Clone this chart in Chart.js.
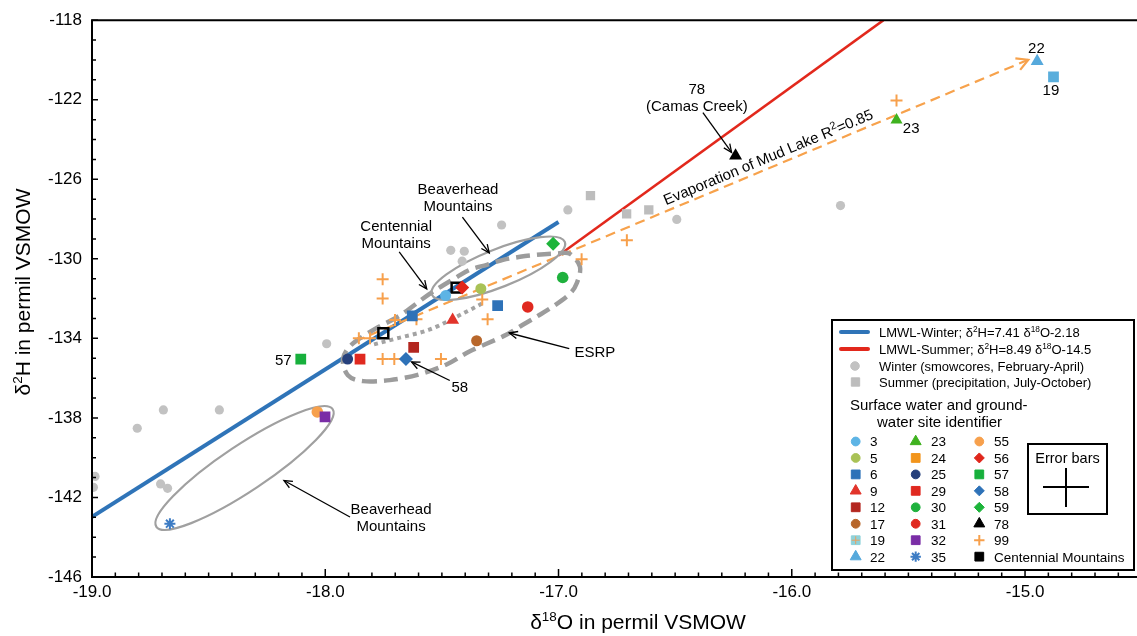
<!DOCTYPE html>
<html>
<head>
<meta charset="utf-8">
<script src="https://cdn.jsdelivr.net/npm/chart.js@4.4.1/dist/chart.umd.min.js"></script>
<style>
html, body { margin: 0; padding: 0; background: #fff; }
#wrap { width: 1137px; height: 636px; }
</style>
</head>
<body>
<div id="wrap"><canvas id="chart" width="1137" height="636"></canvas></div>
<script>
// values: x = d18O, y = d2H (permil VSMOW)
const xTickValues = [-19, -18, -17, -16, -15];
const yTickValues = [-146, -142, -138, -134, -130, -126, -122, -118];

const lmwlWinterX = [-19.0, -17.0];
const lmwlWinterY = [-142.97, -128.15];
const lmwlSummerX = [-17.0, -15.607];
const lmwlSummerY = [-129.83, -118.0];
const evapX = [-17.873, -14.986];
const evapY = [-134.15, -119.99];

const winterX = [-16.96, -17.244, -17.462, -17.404, -17.413, -17.994, -16.493, -15.791, -18.694, -18.454, -18.806, -18.987, -18.994, -18.706, -18.676];
const winterY = [-127.54, -128.3, -129.57, -129.62, -130.12, -134.27, -128.02, -127.32, -137.6, -137.6, -138.52, -140.94, -141.49, -141.32, -141.54];
const summerX = [-16.863, -16.708, -16.613];
const summerY = [-126.82, -127.74, -127.54];

const siteIds = ['3', '5', '6', '6', '9', '12', '17', '19', '22', '23', '25', '29', '30', '31', '32', '35', '55', '56', '57', '58', '59', '78'];
const siteX = [-17.484, -17.333, -17.261, -17.627, -17.454, -17.621, -17.351, -14.878, -14.948, -15.551, -17.904, -17.851, -16.982, -17.132, -18.001, -18.666, -18.034, -17.413, -18.105, -17.654, -17.023, -16.241];
const siteY = [-131.85, -131.5, -132.35, -132.87, -133.07, -134.45, -134.12, -120.85, -120.07, -123.02, -135.04, -135.04, -130.94, -132.42, -137.95, -143.32, -137.7, -131.44, -135.04, -135.04, -129.24, -124.82];

const site99X = [-17.754, -17.754, -16.901, -17.327, -17.304, -17.701, -17.609, -17.856, -17.808, -17.754, -17.704, -17.504, -16.707, -15.551];
const site99Y = [-131.03, -131.99, -130.02, -132.04, -133.04, -133.07, -133.04, -133.99, -133.99, -135.04, -135.04, -135.04, -129.07, -122.04];
const centennialX = [-17.751, -17.437];
const centennialY = [-133.74, -131.45];

// outlined groups
const esrpX = [-17.838, -17.723, -17.594, -17.478, -17.38, -17.238, -17.165, -17.093, -17.024, -16.951, -16.921, -16.908, -16.951, -17.007, -17.093, -17.165, -17.238, -17.307, -17.38, -17.44, -17.551, -17.68, -17.783, -17.886, -17.924, -17.903];
const esrpY = [-136.15, -136.1, -135.8, -135.3, -134.65, -133.9, -133.4, -132.9, -132.4, -131.75, -131.2, -130.4, -129.75, -129.73, -129.8, -129.9, -130.05, -130.3, -130.55, -130.95, -131.75, -132.85, -133.5, -134.3, -135.05, -135.85];
const dottedX = [-17.791, -17.693, -17.551, -17.41, -17.328];
const dottedY = [-134.3, -134.0, -133.55, -132.75, -132.25];
const beaverUpperX = [-17.543, -16.973];
const beaverUpperY = [-131.8, -129.15];
const beaverLowerX = [-18.724, -17.968];
const beaverLowerY = [-143.475, -137.565];

const FONT = '"Liberation Sans", Arial, Helvetica, sans-serif';
Chart.defaults.font.family = FONT;
Chart.defaults.color = '#000';

const siteStyle = {
  '3':  { shape: 'circle', color: '#5db4e5', r: 5.5 },
  '5':  { shape: 'circle', color: '#a9c256', r: 5.5 },
  '6':  { shape: 'rect', color: '#2e72b8', r: 7.6 },
  '9':  { shape: 'triangle', color: '#e2342b', r: 7.5 },
  '12': { shape: 'rect', color: '#b3261f', r: 7.6 },
  '17': { shape: 'circle', color: '#b8672b', r: 5.5 },
  '19': { shape: 'rect', color: '#5aaedc', r: 7.6 },
  '22': { shape: 'triangle', color: '#56a9dc', r: 7.5 },
  '23': { shape: 'triangle', color: '#3fb21f', r: 7 },
  '24': { shape: 'rect', color: '#f2951c', r: 7.6 },
  '25': { shape: 'circle', color: '#26407c', r: 5.5 },
  '29': { shape: 'rect', color: '#e0291f', r: 7.6 },
  '30': { shape: 'circle', color: '#1fb13d', r: 5.8 },
  '31': { shape: 'circle', color: '#e0291f', r: 5.8 },
  '32': { shape: 'rect', color: '#7a2da6', r: 7.6 },
  '35': { shape: 'star', color: '#3d7cc4', r: 5.5, line: 2 },
  '55': { shape: 'circle', color: '#f7a04c', r: 5.8 },
  '56': { shape: 'rectRot', color: '#e0261b', r: 7 },
  '57': { shape: 'rect', color: '#17b03c', r: 7.6 },
  '58': { shape: 'rectRot', color: '#2e72b8', r: 7 },
  '59': { shape: 'rectRot', color: '#1db43a', r: 7 },
  '78': { shape: 'triangle', color: '#000000', r: 7.5 },
  '99': { shape: 'cross', color: '#f7a04c', r: 6, line: 2 },
  'Centennial Mountains': { shape: 'rect', color: '#000000', r: 6.5 }
};
const legendColumns = [
  ['3', '5', '6', '9', '12', '17', '19', '22'],
  ['23', '24', '25', '29', '30', '31', '32', '35'],
  ['55', '56', '57', '58', '59', '78', '99', 'Centennial Mountains']
];

const pts = (xs, ys) => xs.map((x, i) => ({ x: x, y: ys[i] }));

function markerSet(id, data) {
  const s = siteStyle[id];
  const stroked = s.shape === 'cross' || s.shape === 'star';
  return {
    label: id, data: data, showLine: false,
    pointStyle: s.shape, pointRadius: s.r,
    pointBackgroundColor: s.color,
    pointBorderColor: s.color,
    pointBorderWidth: stroked ? s.line : 0
  };
}

// first dataset is drawn on top
const datasets = [];
const uniqueIds = [...new Set(siteIds)];
uniqueIds.forEach(id => {
  const d = [];
  siteIds.forEach((sid, i) => { if (sid === id) d.push({ x: siteX[i], y: siteY[i] }); });
  datasets.push(markerSet(id, d));
});
datasets.push({
  label: 'Centennial Mountains', data: pts(centennialX, centennialY), showLine: false,
  pointStyle: 'rect', pointRadius: 7, pointBackgroundColor: 'rgba(255,255,255,0)',
  pointBorderColor: '#000', pointBorderWidth: 2.5
});
datasets.push(markerSet('99', pts(site99X, site99Y)));
datasets.push({ label: 'Winter', data: pts(winterX, winterY), showLine: false,
  pointStyle: 'circle', pointRadius: 4.6, pointBackgroundColor: '#c2c2c2', pointBorderWidth: 0 });
datasets.push({ label: 'Summer', data: pts(summerX, summerY), showLine: false,
  pointStyle: 'rect', pointRadius: 6.6, pointBackgroundColor: '#bdbdbd', pointBorderWidth: 0 });
const evapIndex = datasets.length;
datasets.push({ label: 'Evaporation', data: pts(evapX, evapY), showLine: true,
  borderColor: '#f7a24c', borderWidth: 2.2, borderDash: [10, 6], pointRadius: 0 });
datasets.push({ label: 'LMWL-Summer', data: pts(lmwlSummerX, lmwlSummerY), showLine: true,
  borderColor: '#e2281c', borderWidth: 2.6, pointRadius: 0 });
datasets.push({ label: 'LMWL-Winter', data: pts(lmwlWinterX, lmwlWinterY), showLine: true,
  borderColor: '#2f74b8', borderWidth: 4, pointRadius: 0 });

// ---------- drawing helpers ----------
function richText(ctx, parts, x, y, size, align, supScale) {
  const ss = size * (supScale || 0.64);
  let w = 0;
  const segs = parts.map(p => {
    const sup = p.charAt(0) === '^';
    const t = sup ? p.slice(1) : p;
    ctx.font = (sup ? ss : size) + 'px ' + FONT;
    const sw = ctx.measureText(t).width;
    w += sw;
    return { t: t, sup: sup, sw: sw };
  });
  let cx = align === 'center' ? x - w / 2 : (align === 'right' ? x - w : x);
  const base = y + size * 0.36;
  ctx.textAlign = 'left';
  ctx.textBaseline = 'alphabetic';
  segs.forEach(s => {
    ctx.font = (s.sup ? ss : size) + 'px ' + FONT;
    ctx.fillText(s.t, cx, s.sup ? base - size * 0.38 : base);
    cx += s.sw;
  });
  return w;
}

function arrowLine(ctx, x1, y1, x2, y2, head, color, lw) {
  ctx.save();
  ctx.strokeStyle = color; ctx.lineWidth = lw; ctx.setLineDash([]);
  ctx.beginPath(); ctx.moveTo(x1, y1); ctx.lineTo(x2, y2); ctx.stroke();
  const a = Math.atan2(y2 - y1, x2 - x1);
  ctx.beginPath();
  ctx.moveTo(x2 - head * Math.cos(a - 0.42), y2 - head * Math.sin(a - 0.42));
  ctx.lineTo(x2, y2);
  ctx.lineTo(x2 - head * Math.cos(a + 0.42), y2 - head * Math.sin(a + 0.42));
  ctx.stroke();
  ctx.restore();
}

function splinePath(ctx, p, closed) {
  const n = p.length;
  const at = i => closed ? p[(i + n) % n] : p[Math.max(0, Math.min(n - 1, i))];
  ctx.moveTo(p[0][0], p[0][1]);
  const segs = closed ? n : n - 1;
  for (let i = 0; i < segs; i++) {
    const p0 = at(i - 1), p1 = at(i), p2 = at(i + 1), p3 = at(i + 2);
    ctx.bezierCurveTo(p1[0] + (p2[0] - p0[0]) / 6, p1[1] + (p2[1] - p0[1]) / 6,
      p2[0] - (p3[0] - p1[0]) / 6, p2[1] - (p3[1] - p1[1]) / 6, p2[0], p2[1]);
  }
  if (closed) ctx.closePath();
}

function legendPoint(ctx, style, r, color, lw, x, y) {
  ctx.save();
  ctx.fillStyle = color; ctx.strokeStyle = color; ctx.lineWidth = lw;
  Chart.helpers.drawPoint(ctx, { pointStyle: style, radius: r, borderWidth: lw, rotation: 0 }, x, y);
  ctx.restore();
}

const shapesPlugin = {
  id: 'shapes',
  afterDatasetDraw(chart, args) {
    if (args.index !== evapIndex) return;
    const ctx = chart.ctx, sx = chart.scales.x, sy = chart.scales.y;
    const P = (x, y) => [sx.getPixelForValue(x), sy.getPixelForValue(y)];
    ctx.save();
    const ca = chart.chartArea;
    ctx.beginPath(); ctx.rect(ca.left, ca.top, ca.right - ca.left, ca.bottom - ca.top); ctx.clip();

    // ESRP outline
    ctx.strokeStyle = '#9c9c9c'; ctx.lineWidth = 4.5; ctx.setLineDash([14, 7]); ctx.lineCap = 'butt';
    ctx.beginPath(); splinePath(ctx, esrpX.map((x, i) => P(x, esrpY[i])), true); ctx.stroke();

    // dotted Centennial outline
    ctx.strokeStyle = '#a3a3a3'; ctx.lineWidth = 4; ctx.setLineDash([4, 4]);
    ctx.beginPath(); splinePath(ctx, dottedX.map((x, i) => P(x, dottedY[i])), false); ctx.stroke();

    // Beaverhead ellipses
    ctx.setLineDash([]); ctx.strokeStyle = '#a0a0a0'; ctx.lineWidth = 2.2;
    [[beaverUpperX, beaverUpperY, 0.265], [beaverLowerX, beaverLowerY, 0.217]].forEach(e => {
      const a = P(e[0][0], e[1][0]), b = P(e[0][1], e[1][1]);
      const half = Math.hypot(b[0] - a[0], b[1] - a[1]) / 2;
      ctx.beginPath();
      ctx.ellipse((a[0] + b[0]) / 2, (a[1] + b[1]) / 2, half, half * e[2], Math.atan2(b[1] - a[1], b[0] - a[0]), 0, Math.PI * 2);
      ctx.stroke();
    });
    ctx.restore();
  },
  afterDraw(chart) {
    const ctx = chart.ctx, sx = chart.scales.x, sy = chart.scales.y, ca = chart.chartArea;
    const P = (x, y) => [sx.getPixelForValue(x), sy.getPixelForValue(y)];
    ctx.save();

    // frame and inward ticks
    ctx.strokeStyle = '#000'; ctx.lineWidth = 2; ctx.setLineDash([]);
    ctx.beginPath();
    ctx.moveTo(ca.right, ca.top); ctx.lineTo(ca.left, ca.top); ctx.lineTo(ca.left, ca.bottom); ctx.lineTo(ca.right, ca.bottom);
    ctx.stroke();
    ctx.lineWidth = 1.5;
    ctx.beginPath();
    for (let i = 0; -19 + i / 10 <= sx.max; i++) {
      const x = sx.getPixelForValue(-19 + i / 10);
      ctx.moveTo(x, ca.bottom); ctx.lineTo(x, ca.bottom - (i % 10 === 0 ? 8 : 4.5));
    }
    for (let v = -146; v <= -118; v++) {
      const y = sy.getPixelForValue(v);
      ctx.moveTo(ca.left, y); ctx.lineTo(ca.left + ((v + 146) % 4 === 0 ? 6 : 4), y);
    }
    ctx.stroke();

    // axis titles
    ctx.fillStyle = '#000';
    richText(ctx, ['δ', '^18', 'O in permil VSMOW'], 638, 621, 21, 'center');
    ctx.save();
    ctx.translate(22, 292); ctx.rotate(-Math.PI / 2);
    richText(ctx, ['δ', '^2', 'H in permil VSMOW'], 0, 0, 21, 'center');
    ctx.restore();

    // evaporation arrow head
    const e0 = P(evapX[0], evapY[0]), e1 = P(evapX[1], evapY[1]);
    const ang = Math.atan2(e1[1] - e0[1], e1[0] - e0[0]);
    ctx.strokeStyle = '#f7a24c'; ctx.lineWidth = 2.2;
    ctx.beginPath();
    ctx.moveTo(e1[0] - 13 * Math.cos(ang - 0.5), e1[1] - 13 * Math.sin(ang - 0.5));
    ctx.lineTo(e1[0], e1[1]);
    ctx.lineTo(e1[0] - 13 * Math.cos(ang + 0.5), e1[1] - 13 * Math.sin(ang + 0.5));
    ctx.stroke();

    // rotated evaporation label
    const lp = P(-16.53, -127.57);
    ctx.save();
    ctx.translate(lp[0], lp[1]); ctx.rotate(ang);
    ctx.fillStyle = '#000';
    richText(ctx, ['Evaporation of Mud Lake R', '^2', '=0.85'], 0, -11, 15, 'left', 0.72);
    ctx.restore();

    // annotation texts
    ctx.fillStyle = '#000';
    const notes = [
      [['Beaverhead', 'Mountains'], -17.431, -126.48],
      [['Centennial', 'Mountains'], -17.696, -128.32],
      [['ESRP'], -16.844, -134.65],
      [['58'], -17.423, -136.45],
      [['57'], -18.18, -135.06],
      [['Beaverhead', 'Mountains'], -17.718, -142.57],
      [['78', '(Camas Creek)'], -16.407, -121.45],
      [['22'], -14.951, -119.4],
      [['19'], -14.889, -121.51],
      [['23'], -15.488, -123.4]
    ];
    notes.forEach(n => {
      const p = P(n[1], n[2]);
      n[0].forEach((t, k) => richText(ctx, [t], p[0], p[1] + k * 17, 15, 'center'));
    });
    const arrows = [
      [-17.412, -127.9, -17.297, -129.7],
      [-17.683, -129.65, -17.565, -131.51],
      [-16.954, -134.51, -17.211, -133.73],
      [-17.466, -136.12, -17.63, -135.18],
      [-17.894, -142.98, -18.177, -141.15],
      [-16.381, -122.65, -16.258, -124.65]
    ];
    arrows.forEach(a => {
      const p = P(a[0], a[1]), q = P(a[2], a[3]);
      arrowLine(ctx, p[0], p[1], q[0], q[1], 9, '#000', 1.3);
    });

    // legend box
    const L = 832, T = 320, R = 1134, B = 570;
    ctx.fillStyle = '#fff'; ctx.fillRect(L, T, R - L, B - T);
    ctx.strokeStyle = '#000'; ctx.lineWidth = 2; ctx.strokeRect(L, T, R - L, B - T);
    ctx.lineCap = 'round';
    ctx.strokeStyle = '#2f74b8'; ctx.lineWidth = 4;
    ctx.beginPath(); ctx.moveTo(841, 332); ctx.lineTo(868, 332); ctx.stroke();
    ctx.strokeStyle = '#e2281c';
    ctx.beginPath(); ctx.moveTo(841, 349); ctx.lineTo(868, 349); ctx.stroke();
    ctx.lineCap = 'butt';
    legendPoint(ctx, 'circle', 4.3, '#c2c2c2', 1, 855, 366);
    legendPoint(ctx, 'rect', 5.9, '#bdbdbd', 1, 855.5, 382);
    ctx.fillStyle = '#000';
    richText(ctx, ['LMWL-Winter; δ', '^2', 'H=7.41 δ', '^18', 'O-2.18'], 879, 332, 13, 'left');
    richText(ctx, ['LMWL-Summer; δ', '^2', 'H=8.49 δ', '^18', 'O-14.5'], 879, 349, 13, 'left');
    richText(ctx, ['Winter (smowcores, February-April)'], 879, 366, 13, 'left');
    richText(ctx, ['Summer (precipitation, July-October)'], 879, 382, 13, 'left');
    richText(ctx, ['Surface water and ground-'], 850, 405, 15, 'left');
    richText(ctx, ['water site identifier'], 877, 422, 15, 'left');

    const colMarker = [855.7, 915.7, 979.3], colText = [870, 931, 994];
    legendColumns.forEach((col, c) => {
      col.forEach((id, r) => {
        const s = siteStyle[id];
        const y = 441.5 + r * 16.45;
        const stroked = s.shape === 'cross' || s.shape === 'star';
        const rr = s.shape === 'rect' ? 6.2 : (s.shape === 'triangle' ? 6.3 : (s.shape === 'rectRot' ? 5 : (stroked ? 5.2 : 4.4)));
        const fill = id === '19' ? '#8fd2da' : s.color;
        if (stroked) {
          legendPoint(ctx, s.shape, rr, s.color, 2, colMarker[c], y);
        } else {
          legendPoint(ctx, s.shape, rr, fill, 1, colMarker[c], y);
        }
        if (id === '19') legendPoint(ctx, 'cross', 4, '#e8a060', 1, colMarker[c], y);
        ctx.fillStyle = '#000';
        richText(ctx, [id], colText[c], y, 13.5, 'left');
      });
    });

    // error bar key
    ctx.strokeStyle = '#000'; ctx.lineWidth = 2;
    ctx.strokeRect(1028, 444, 79, 70);
    ctx.fillStyle = '#000';
    richText(ctx, ['Error bars'], 1067.5, 458, 14.5, 'center');
    ctx.beginPath();
    ctx.moveTo(1043, 487); ctx.lineTo(1089, 487);
    ctx.moveTo(1066, 468); ctx.lineTo(1066, 507);
    ctx.stroke();
    ctx.restore();
  }
};

const bgPlugin = {
  id: 'bg',
  beforeDraw(chart) {
    const ctx = chart.ctx;
    ctx.save(); ctx.fillStyle = '#fff'; ctx.fillRect(0, 0, chart.width, chart.height); ctx.restore();
  }
};

new Chart(document.getElementById('chart').getContext('2d'), {
  type: 'scatter',
  data: { datasets: datasets },
  options: {
    responsive: false,
    devicePixelRatio: 1,
    animation: false,
    events: [],
    layout: { padding: { left: 0, right: 0, top: 17, bottom: 0 }, autoPadding: false },
    plugins: { legend: { display: false }, tooltip: { enabled: false } },
    scales: {
      x: {
        type: 'linear', position: 'bottom', min: -19, max: -14.52,
        grid: { display: false, drawTicks: false },
        border: { display: false },
        afterBuildTicks: s => { s.ticks = xTickValues.map(v => ({ value: v })); },
        afterFit: s => { s.height = 59; },
        ticks: { font: { size: 17 }, color: '#000', padding: 5, maxRotation: 0, autoSkip: false,
          callback: v => v.toFixed(1) }
      },
      y: {
        type: 'linear', position: 'left', min: -146, max: -118,
        grid: { display: false, drawTicks: false },
        border: { display: false },
        afterBuildTicks: s => { s.ticks = yTickValues.map(v => ({ value: v })); },
        afterFit: s => { s.width = 92; },
        ticks: { font: { size: 17 }, color: '#000', padding: 10, autoSkip: false,
          callback: v => String(v) }
      }
    }
  },
  plugins: [bgPlugin, shapesPlugin]
});
</script>
</body>
</html>
